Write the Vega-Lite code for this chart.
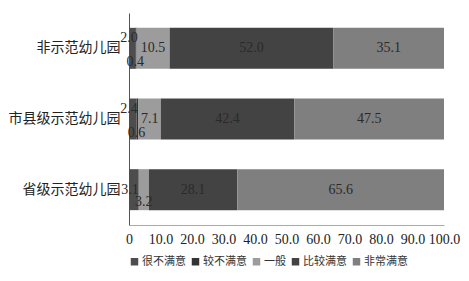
{
  "$schema": "https://vega.github.io/schema/vega-lite/v6.json",
  "width": 315,
  "height": 212,
  "autosize": {"type": "none"},
  "padding": {"left": 129, "top": 13, "right": 25, "bottom": 56},
  "background": "white",
  "config": {
    "view": {"stroke": null},
    "font": "Liberation Serif, Noto Sans CJK SC",
    "axis": {"grid": false, "ticks": false, "title": null},
    "axisX": {
      "labelOverlap": false,
      "labelFlush": false,
      "labelBound": false,
      "values": [0, 10, 20, 30, 40, 50, 60, 70, 80, 90, 100],
      "labelExpr": "datum.value == 0 ? '0' : format(datum.value, '.1f')",
      "labelFontSize": 14,
      "labelColor": "#222",
      "labelPadding": 7,
      "domainColor": "#aaa"
    }
  },
  "data": {
    "values": [
      {"school": "非示范幼儿园", "level": "很不满意", "order": 1, "value": 2.0},
      {"school": "非示范幼儿园", "level": "较不满意", "order": 2, "value": 0.4},
      {"school": "非示范幼儿园", "level": "一般", "order": 3, "value": 10.5},
      {"school": "非示范幼儿园", "level": "比较满意", "order": 4, "value": 52.0},
      {"school": "非示范幼儿园", "level": "非常满意", "order": 5, "value": 35.1},
      {"school": "市县级示范幼儿园", "level": "很不满意", "order": 1, "value": 2.4},
      {"school": "市县级示范幼儿园", "level": "较不满意", "order": 2, "value": 0.6},
      {"school": "市县级示范幼儿园", "level": "一般", "order": 3, "value": 7.1},
      {"school": "市县级示范幼儿园", "level": "比较满意", "order": 4, "value": 42.4},
      {"school": "市县级示范幼儿园", "level": "非常满意", "order": 5, "value": 47.5},
      {"school": "省级示范幼儿园", "level": "很不满意", "order": 1, "value": 3.1},
      {"school": "省级示范幼儿园", "level": "较不满意", "order": 2, "value": 0},
      {"school": "省级示范幼儿园", "level": "一般", "order": 3, "value": 3.2},
      {"school": "省级示范幼儿园", "level": "比较满意", "order": 4, "value": 28.1},
      {"school": "省级示范幼儿园", "level": "非常满意", "order": 5, "value": 65.6}
    ]
  },
  "transform": [
    {"stack": "value", "groupby": ["school"], "sort": [{"field": "order", "order": "ascending"}], "as": ["v0", "v1"]},
    {"calculate": "(datum.v0 + datum.v1) / 2", "as": "mid"}
  ],
  "encoding": {
    "y": {
      "field": "school",
      "type": "nominal",
      "sort": ["非示范幼儿园", "市县级示范幼儿园", "省级示范幼儿园"],
      "scale": {"paddingInner": 0.42, "paddingOuter": 0.21},
      "axis": {
        "labelFontSize": 14,
        "labelColor": "#222",
        "labelPadding": 9,
        "domainColor": "#555",
        "labelFont": "Noto Sans CJK SC"
      }
    }
  },
  "layer": [
    {
      "mark": {"type": "bar"},
      "encoding": {
        "x": {
          "field": "v0",
          "type": "quantitative",
          "scale": {"domain": [0, 100]}
        },
        "x2": {"field": "v1"},
        "color": {
          "field": "level",
          "type": "nominal",
          "scale": {
            "domain": ["很不满意", "较不满意", "一般", "比较满意", "非常满意"],
            "range": ["#4d4d4d", "#333333", "#9c9c9c", "#434343", "#7f7f7f"]
          },
          "legend": {
            "title": null,
            "orient": "bottom",
            "direction": "horizontal",
            "symbolType": "square",
            "symbolSize": 56,
            "symbolStrokeWidth": 0,
            "labelFontSize": 11,
            "labelFont": "Noto Sans CJK SC",
            "labelColor": "#333",
            "columnPadding": 4,
            "labelOffset": 2,
            "offset": 10
          }
        }
      }
    },
    {
      "transform": [{"filter": "datum.value >= 5"}],
      "mark": {"type": "text", "fontSize": 14, "color": "#2a2a2a"},
      "encoding": {
        "x": {"field": "mid", "type": "quantitative"},
        "text": {"field": "value", "type": "quantitative", "format": ".1f"}
      }
    },
    {
      "transform": [{"filter": "datum.level == '很不满意' && datum.value < 3"}],
      "mark": {"type": "text", "fontSize": 14, "color": "#2a2a2a", "dy": -10},
      "encoding": {
        "x": {"field": "v0", "type": "quantitative"},
        "text": {"field": "value", "type": "quantitative", "format": ".1f"}
      }
    },
    {
      "transform": [{"filter": "datum.level == '很不满意' && datum.value >= 3"}],
      "mark": {"type": "text", "fontSize": 14, "color": "#2a2a2a", "dx": 1},
      "encoding": {
        "x": {"field": "v0", "type": "quantitative"},
        "text": {"field": "value", "type": "quantitative", "format": ".1f"}
      }
    },
    {
      "transform": [{"filter": "datum.level == '较不满意' && datum.value > 0"}],
      "mark": {"type": "text", "fontSize": 14, "color": "#2a2a2a", "dy": 14},
      "encoding": {
        "x": {"field": "v0", "type": "quantitative"},
        "text": {"field": "value", "type": "quantitative", "format": ".1f"}
      }
    },
    {
      "transform": [{"filter": "datum.level == '一般' && datum.value < 5"}],
      "mark": {"type": "text", "fontSize": 14, "color": "#2a2a2a", "dy": 12},
      "encoding": {
        "x": {"field": "mid", "type": "quantitative"},
        "text": {"field": "value", "type": "quantitative", "format": ".1f"}
      }
    }
  ]
}
